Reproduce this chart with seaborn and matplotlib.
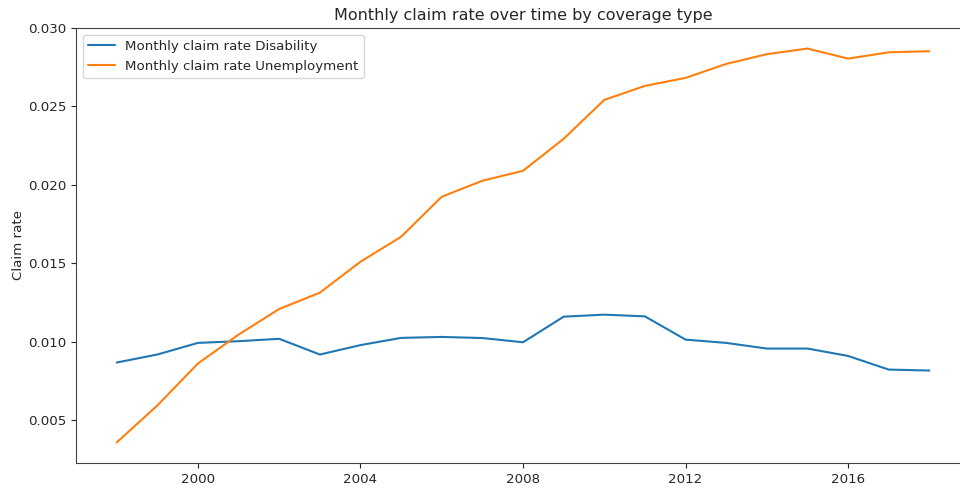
import matplotlib
matplotlib.use("Agg")
import matplotlib.pyplot as plt
import seaborn as sns
import pandas as pd

# Datos
years = list(range(1998, 2019))
disability = [0.00869, 0.00920, 0.00994, 0.01005, 0.01020, 0.00920, 0.00980, 0.01026,
              0.01032, 0.01025, 0.00998, 0.01161, 0.01174, 0.01163, 0.01015, 0.00994,
              0.00958, 0.00958, 0.00911, 0.00824, 0.00818]
unemployment = [0.00360, 0.00595, 0.00863, 0.01047, 0.01210, 0.01314, 0.01511, 0.01670,
                0.01925, 0.02027, 0.02090, 0.02294, 0.02542, 0.02631, 0.02682, 0.02771,
                0.02833, 0.02869, 0.02805, 0.02845, 0.02852]
series_names = ["Monthly claim rate Disability", "Monthly claim rate Unemployment"]

df = pd.DataFrame({
    "year": years * 2,
    "rate": disability + unemployment,
    "series": [series_names[0]] * len(years) + [series_names[1]] * len(years),
})

sns.set_style("ticks")
plt.rcParams.update({"font.size": 9.6, "xtick.labelsize": 9.6, "ytick.labelsize": 9.6,
                     "axes.labelsize": 9.6, "legend.fontsize": 9.6})
fig = plt.figure(figsize=(9.6, 4.9), dpi=100)
ax = fig.add_axes([0.0792, 0.0551, 0.9312, 0.8878])
sns.lineplot(data=df, x="year", y="rate", hue="series", ax=ax,
             palette=["#1f77b4", "#ff7f0e"], linewidth=1.5)
ax.set_xlim(1997, 2019)
ax.set_ylim(0.00229, 0.0300)
ax.set_xticks([2000, 2004, 2008, 2012, 2016])
ax.set_xlabel("")
ax.set_ylabel("Claim rate", labelpad=2)
ax.set_title("Monthly claim rate over time by coverage type", fontsize=11.5)
for s in ax.spines.values():
    s.set_color("#444444")
ax.legend(loc="upper left", title=None)
fig.savefig("out.png", dpi=100)
